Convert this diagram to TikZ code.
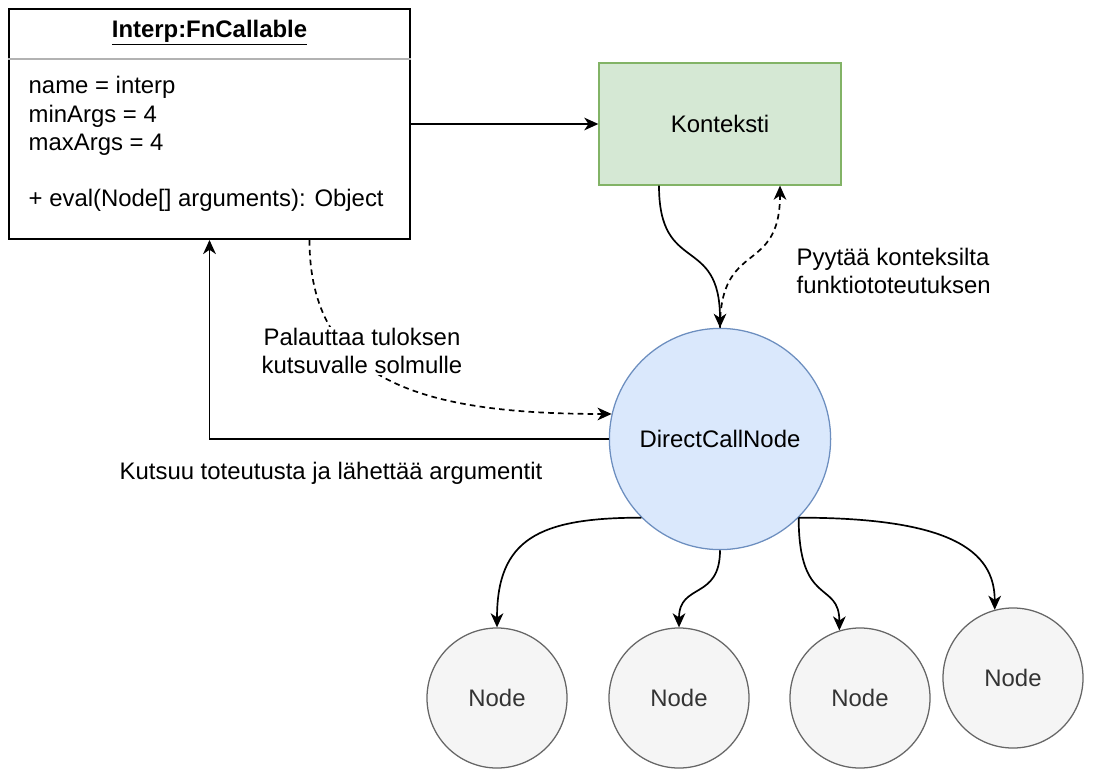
\documentclass[tikz,border=0pt]{standalone}
\usepackage{fontspec}
\setmainfont{Liberation Sans}
\usepackage{xcolor}
\definecolor{kgreen}{HTML}{D5E8D4}
\definecolor{kgreenline}{HTML}{82B366}
\definecolor{dblue}{HTML}{DAE8FC}
\definecolor{dblueline}{HTML}{6C8EBF}
\definecolor{ngrey}{HTML}{F5F5F5}
\definecolor{ngreyline}{HTML}{666666}
\definecolor{ntext}{HTML}{333333}
\usepackage{tikz}
\usetikzlibrary{arrows.meta,positioning,calc}

\begin{document}
\begin{tikzpicture}[
  x=0.025cm, y=-0.025cm,
  font=\fontsize{17}{20}\selectfont,
  umlbox/.style={rectangle,draw,line width=1.3pt,minimum width=10.03cm,minimum height=5.75cm},
  ctxbox/.style={rectangle,draw=kgreenline,fill=kgreen,line width=0.9pt,minimum width=6.05cm,minimum height=3.05cm},
  callnode/.style={circle,draw=dblueline,fill=dblue,line width=0.9pt,minimum size=5.53cm,inner sep=0pt},
  leaf/.style={circle,draw=ngreyline,fill=ngrey,line width=0.9pt,minimum size=3.5cm,inner sep=0pt,text=ntext},
  arrow/.style={-{Stealth[length=10pt,width=9pt,inset=3pt]},line width=1.2pt},
  dasharrow/.style={arrow,dash pattern=on 4pt off 3pt},
  lbl/.style={align=left,inner sep=1pt}
]
  \useasboundingbox (0,0) rectangle (1097,770);

  \node[umlbox] (fn) at (209.5,124) {};
  \node (title) at (209.5,33) {\underline{\textbf{Interp:FnCallable}}};
  \coordinate (sep) at (0,59);
  \draw[line width=1pt,gray!60] (fn.west |- sep) -- (fn.east |- sep);
  \node[lbl,anchor=west] (attrs) at (27,144) {name = interp\\minArgs = 4\\maxArgs = 4\\[20pt]+ eval(Node[] arguments): Object};

  \node[ctxbox] (ctx) at (720,124) {Konteksti};
  \node[callnode] (dcn) at (720,439) {DirectCallNode};
  \node[leaf] (n1) at (497,698) {Node};
  \node[leaf] (n2) at (679,698) {Node};
  \node[leaf] (n3) at (860,698) {Node};
  \node[leaf] (n4) at (1013,678) {Node};

  \node[lbl,anchor=west] (askLbl) at (795,271) {Pyytää konteksilta\\funktiototeutuksen};
  \node (callLbl) at (331,473) {Kutsuu toteutusta ja lähettää argumentit};

  \draw[arrow] (fn) -- (ctx);
  \draw[arrow] ($(ctx.south)+(-61,0)$) .. controls +(0,90) and +(0,-94) .. (dcn.north);
  \draw[dasharrow] (dcn.north) .. controls +(0,-89) and +(0,90) .. ($(ctx.south)+(60,0)$);
  \draw[arrow] (dcn.west) -| (fn.south);
  \draw[dasharrow] ($(fn.south)+(100,0)$) .. controls +(0,141) and +(-190,0) .. (dcn.167);
  \node[lbl,align=center,fill=white] (retLbl) at (362,351) {Palauttaa tuloksen\\kutsuvalle solmulle};

  \draw[arrow] (dcn.225) .. controls +(-103,0) and +(0,-88) .. (n1.north);
  \draw[arrow] (dcn.south) .. controls +(0,50) and +(0,-45) .. (n2.north);
  \draw[arrow] (dcn.315) .. controls +(0,90) and +(0,-50) .. (n3.107);
  \draw[arrow] (dcn.315) .. controls +(150,0) and +(0,-60) .. (n4.105);
\end{tikzpicture}
\end{document}
